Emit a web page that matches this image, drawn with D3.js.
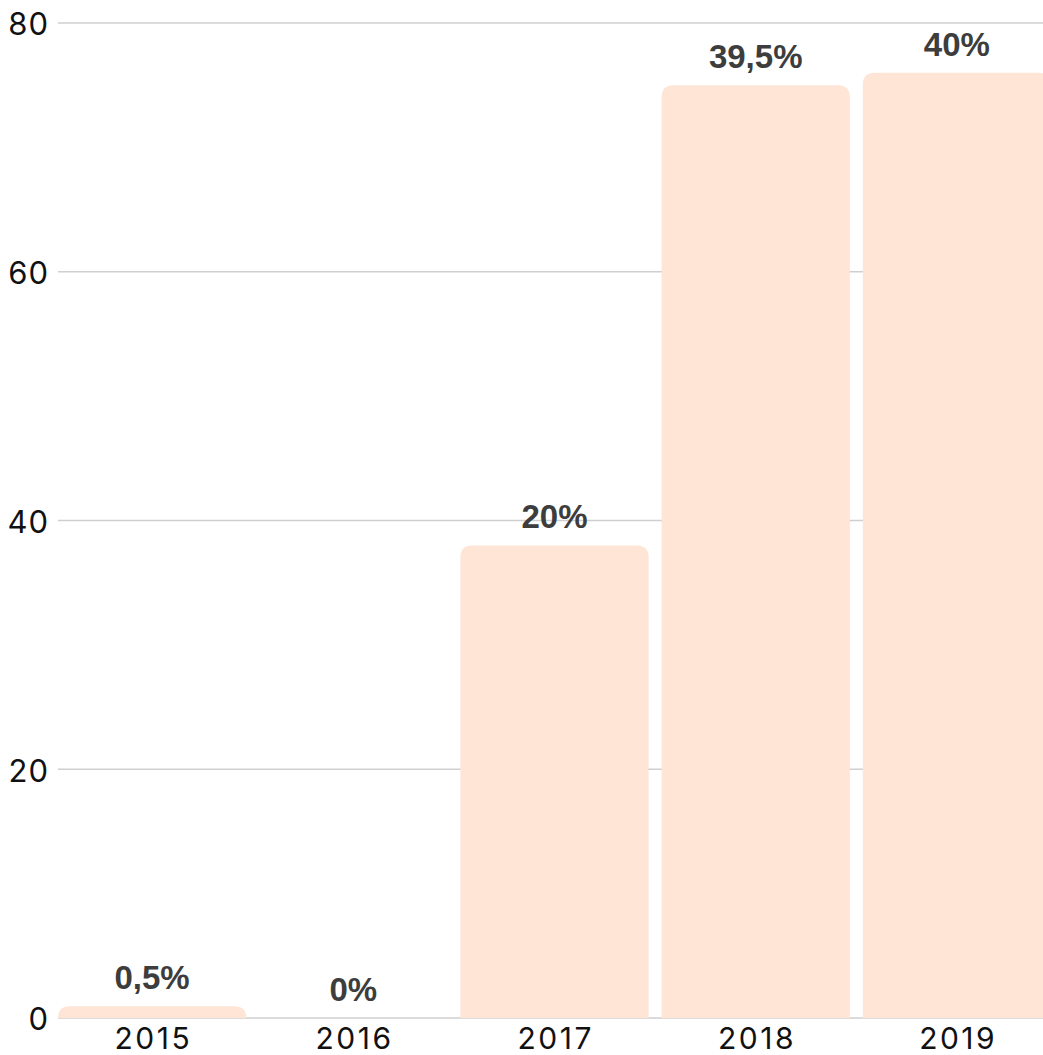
<!DOCTYPE html>
<html>
<head>
<meta charset="utf-8">
<script src="https://cdn.jsdelivr.net/npm/d3@7"></script>
<style>
html,body{margin:0;padding:0;background:#fff;overflow:hidden;}
svg{display:block;}
</style>
</head>
<body>
<svg id="chart" width="1043" height="1055"></svg>
<script>
const categories = ["2015", "2016", "2017", "2018", "2019"];
const values = [0.95, 0, 38, 75, 76];
const valueLabels = ["0,5%", "0%", "20%", "39,5%", "40%"];
const yTicks = [0, 20, 40, 60, 80];

(function () {
const svg = d3.select("#chart");
const mLeft = 58, mRight = 1043, mTop = 23, mBottom = 1018;

const x = d3.scaleBand().domain(categories).range([mLeft, 1051]).paddingInner(0.0646).paddingOuter(0);
const y = d3.scaleLinear().domain([0, 80]).range([mBottom, mTop]);

// grid
svg.append("g").selectAll("line").data(yTicks).join("line")
  .attr("x1", mLeft).attr("x2", mRight)
  .attr("y1", d => y(d)).attr("y2", d => y(d))
  .attr("stroke", "#cfcfcf").attr("stroke-width", 1.5);

// y labels
const yAxis = d3.axisLeft(y).tickValues(yTicks).tickSize(0).tickPadding(0);
const ya = svg.append("g").attr("transform", `translate(49,0)`).call(yAxis);
ya.select(".domain").remove();
ya.selectAll("text").attr("font-family", "Inter, Roboto, sans-serif").attr("font-size", 31)
  .attr("letter-spacing", 1).attr("fill", "#111").attr("dy", "0.38em");

// bars with rounded top
const r = 12;
function barPath(d, i) {
  const x0 = x(categories[i]), w = x.bandwidth();
  const y0 = y(d), h = mBottom - y0;
  if (h <= 0) return "";
  const rr = Math.min(r, h, w / 2);
  return `M${x0},${mBottom}V${y0 + rr}Q${x0},${y0} ${x0 + rr},${y0}H${x0 + w - rr}Q${x0 + w},${y0} ${x0 + w},${y0 + rr}V${mBottom}Z`;
}
svg.append("g").selectAll("path").data(values).join("path")
  .attr("d", barPath)
  .attr("fill", "#fee5d5");

// x labels
const xAxis = d3.axisBottom(x).tickSize(0).tickPadding(0);
const xa = svg.append("g").attr("transform", `translate(0,${mBottom})`).call(xAxis);
xa.select(".domain").remove();
xa.selectAll("text").attr("font-family", "Inter, Roboto, sans-serif").attr("font-size", 30)
  .attr("letter-spacing", 2.5).attr("dx", 1.25)
  .attr("fill", "#111").attr("dy", null).attr("y", 31);

// value labels
svg.append("g").selectAll("text").data(values).join("text")
  .attr("x", (d, i) => x(categories[i]) + x.bandwidth() / 2)
  .attr("y", d => y(d) - 17)
  .attr("text-anchor", "middle")
  .attr("font-family", "'Liberation Sans', Arial, sans-serif")
  .attr("font-weight", "bold")
  .attr("font-size", 33)
  .attr("fill", "#3d3d3d")
  .text((d, i) => valueLabels[i]);
})();
</script>
</body>
</html>
